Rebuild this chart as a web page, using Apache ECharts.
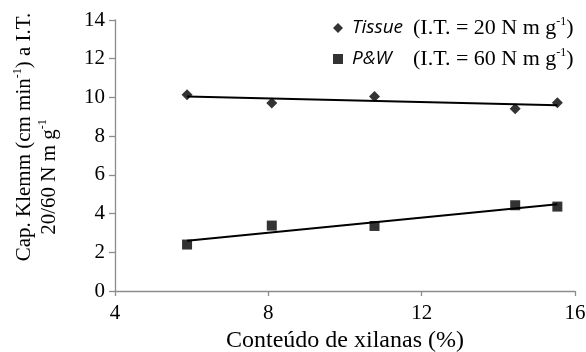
<!DOCTYPE html>
<html>
<head>
<meta charset="utf-8">
<script src="https://cdn.jsdelivr.net/npm/echarts@6/dist/echarts.min.js"></script>
<style>
  html, body { margin: 0; padding: 0; background: #fff; }
  #chart { width: 586px; height: 352px; }
</style>
</head>
<body>
<div id="chart"></div>
<script>
// Xylan content (%) of each pulp
const xylanContent = [5.88, 8.09, 10.77, 14.44, 15.54];
// Klemm capillary rise (cm/min) at the two tensile indexes
const tissueValues = [10.14, 9.71, 10.05, 9.42, 9.73];
const pwValues = [2.40, 3.38, 3.36, 4.43, 4.36];
const seriesNames = ['Tissue', 'P&W'];
const seriesIT = ['20', '60'];
const xTicks = [4, 8, 12, 16];
const yTicks = [0, 2, 4, 6, 8, 10, 12, 14];

// Least-squares line through the points, spanning the data range
function linearFit(xs, ys) {
  const n = xs.length;
  const mx = xs.reduce((a, b) => a + b, 0) / n;
  const my = ys.reduce((a, b) => a + b, 0) / n;
  let sxy = 0, sxx = 0;
  for (let i = 0; i < n; i++) {
    sxy += (xs[i] - mx) * (ys[i] - my);
    sxx += (xs[i] - mx) * (xs[i] - mx);
  }
  const slope = sxy / sxx;
  const icpt = my - slope * mx;
  const x0 = Math.min(...xs), x1 = Math.max(...xs);
  return [[x0, icpt + slope * x0], [x1, icpt + slope * x1]];
}

const pairs = ys => xylanContent.map((x, i) => [x, ys[i]]);

const serif = '"Liberation Serif", "Times New Roman", serif';
const sans = '"Open Sans", "Liberation Sans", sans-serif';
const axisGray = '#8c8c8c';

const chart = echarts.init(document.getElementById('chart'), null, { renderer: 'canvas' });

const supStyle = { fontFamily: serif, fontSize: 12, color: '#000', verticalAlign: 'top', lineHeight: 22 };

chart.setOption({
  animation: false,
  backgroundColor: '#fff',
  grid: { left: 115, right: 11, top: 20, bottom: 61, containLabel: false, outerBoundsMode: 'none' },
  xAxis: {
    type: 'value',
    min: xTicks[0], max: xTicks[xTicks.length - 1], interval: 4,
    axisLine: { show: true, lineStyle: { color: axisGray, width: 1.3 } },
    axisTick: { show: true, length: 5, lineStyle: { color: axisGray, width: 1.3 } },
    splitLine: { show: false },
    axisLabel: { fontFamily: serif, fontSize: 21, color: '#000', margin: 12 },
    name: 'Conteúdo de xilanas (%)',
    nameLocation: 'middle',
    nameGap: 34,
    nameTextStyle: { fontFamily: serif, fontSize: 24, color: '#000' }
  },
  yAxis: {
    type: 'value',
    min: yTicks[0], max: yTicks[yTicks.length - 1], interval: 2,
    axisLine: { show: true, lineStyle: { color: axisGray, width: 1.3 } },
    axisTick: { show: true, length: 6, lineStyle: { color: axisGray, width: 1.3 } },
    splitLine: { show: false },
    axisLabel: { fontFamily: serif, fontSize: 21, color: '#000', margin: 10 },
    // second line carries a trailing spacer so it sits lower than the first
    name: '{t|Cap. Klemm (cm min}{s|-1}{t|) a I.T.}\n{t|20/60 N m g}{s|-1}{sp|\u00a0}',
    nameLocation: 'middle',
    nameRotate: 90,
    nameGap: 53,
    nameTextStyle: {
      padding: [0, 0, 0, 37],
      rich: {
        t: { fontFamily: serif, fontSize: 21, color: '#000', lineHeight: 25 },
        s: supStyle,
        sp: { fontFamily: serif, fontSize: 21, width: 80, lineHeight: 25 }
      }
    }
  },
  legend: {
    orient: 'vertical',
    left: 328,
    top: 11,
    itemWidth: 10,
    itemHeight: 10,
    itemGap: 8,
    selectedMode: false,
    data: [
      { name: seriesNames[0], icon: 'diamond' },
      { name: seriesNames[1], icon: 'rect' }
    ],
    formatter: name => {
      const k = seriesNames.indexOf(name);
      return '{it|' + name + '}{n|(I.T. = ' + seriesIT[k] + ' N m g}{s|-1}{n|)}';
    },
    textStyle: {
      rich: {
        it: { fontFamily: sans, fontStyle: 'italic', fontSize: 19, color: '#000', width: 61, padding: [0, 0, 0, 4] },
        n: { fontFamily: serif, fontSize: 22, color: '#000', lineHeight: 24 },
        s: supStyle
      }
    }
  },
  series: [
    {
      name: seriesNames[0], type: 'scatter', symbol: 'diamond', symbolSize: 11,
      itemStyle: { color: '#000' }, data: pairs(tissueValues), z: 3
    },
    {
      name: seriesNames[1], type: 'scatter', symbol: 'rect', symbolSize: 10,
      itemStyle: { color: '#000' }, data: pairs(pwValues), z: 3
    },
    {
      name: 'fitTissue', type: 'line', showSymbol: false, symbol: 'none',
      lineStyle: { color: '#000', width: 2 }, data: linearFit(xylanContent, tissueValues), z: 2
    },
    {
      name: 'fitPW', type: 'line', showSymbol: false, symbol: 'none',
      lineStyle: { color: '#000', width: 2 }, data: linearFit(xylanContent, pwValues), z: 2
    }
  ]
});
</script>
</body>
</html>
